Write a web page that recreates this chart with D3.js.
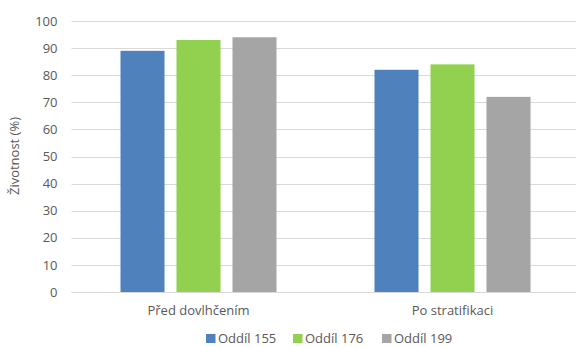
<!DOCTYPE html>
<html>
<head>
<meta charset="utf-8">
<script src="https://cdn.jsdelivr.net/npm/d3@7"></script>
<style>
  html, body { margin: 0; padding: 0; background: #fff; }
  svg { display: block; font-family: "Open Sans", sans-serif; }
</style>
</head>
<body>
<svg id="chart" width="576" height="347"></svg>
<script>
// Viability of seed lots before moistening and after stratification
const categories = ["Před dovlhčením", "Po stratifikaci"];
const seriesNames = ["Oddíl 155", "Oddíl 176", "Oddíl 199"];
const oddil155 = [89, 82];
const oddil176 = [93, 84];
const oddil199 = [94, 72];
const yTicks = [0, 10, 20, 30, 40, 50, 60, 70, 80, 90, 100];
const yTitle = "Životnost (%)";
const colors = ["#4F81BD", "#92D050", "#A5A5A5"];

const seriesValues = [oddil155, oddil176, oddil199];
const rows = categories.map((c, i) => ({
  category: c,
  values: seriesNames.map((s, j) => ({ series: s, value: seriesValues[j][i], idx: j }))
}));

const svg = d3.select("#chart");
const margin = { left: 71.5, right: -3.5, top: 21, bottom: 55 };
const W = 576, H = 347;

const x0 = d3.scaleBand().domain(categories)
  .range([margin.left, W - margin.right]).paddingInner(0).paddingOuter(0);
const x1 = d3.scaleBand().domain(seriesNames)
  .range([0, x0.bandwidth()]).paddingInner(0.214).paddingOuter(0.875);
const y = d3.scaleLinear().domain([0, 100]).range([H - margin.bottom, margin.top]);

// Gridlines
svg.append("g")
  .selectAll("line")
  .data(yTicks)
  .join("line")
  .attr("x1", margin.left)
  .attr("x2", W)
  .attr("y1", d => Math.round(y(d)) + 0.5)
  .attr("y2", d => Math.round(y(d)) + 0.5)
  .attr("stroke", "#D9D9D9")
  .attr("stroke-width", 1);

// Y axis labels
const yAxis = d3.axisLeft(y).tickValues(yTicks).tickSize(0).tickPadding(0);
const yg = svg.append("g").attr("transform", `translate(${margin.left - 14},0)`).call(yAxis);
yg.select(".domain").remove();
yg.selectAll("text")
  .attr("fill", "#595959")
  .attr("font-size", "13px")
  .attr("font-family", "Open Sans, sans-serif");

// Bars
const groups = svg.append("g")
  .selectAll("g")
  .data(rows)
  .join("g")
  .attr("transform", d => `translate(${x0(d.category)},0)`);

groups.selectAll("rect")
  .data(d => d.values)
  .join("rect")
  .attr("x", d => x1(d.series))
  .attr("width", x1.bandwidth())
  .attr("y", d => y(d.value))
  .attr("height", d => y(0) - y(d.value))
  .attr("fill", d => colors[d.idx]);

// Baseline
svg.append("line")
  .attr("x1", margin.left).attr("x2", W)
  .attr("y1", Math.round(y(0)) + 0.5).attr("y2", Math.round(y(0)) + 0.5)
  .attr("stroke", "#D9D9D9").attr("stroke-width", 1);

// Category labels
const xAxis = d3.axisBottom(x0).tickSize(0).tickPadding(0);
const xg = svg.append("g").attr("transform", `translate(0,${y(0) + 13.5})`).call(xAxis);
xg.select(".domain").remove();
xg.selectAll("text")
  .attr("fill", "#595959")
  .attr("font-size", "13px")
  .attr("font-family", "Open Sans, sans-serif");

// Y axis title
svg.append("text")
  .attr("transform", `translate(19,${156}) rotate(-90)`)
  .attr("text-anchor", "middle")
  .attr("fill", "#595959")
  .attr("font-size", "13px")
  .text(yTitle);

// Legend
const legendX = [206, 293, 382];
const legend = svg.append("g")
  .selectAll("g")
  .data(seriesNames)
  .join("g")
  .attr("transform", (d, i) => `translate(${legendX[i]},334)`);
legend.append("rect")
  .attr("width", 9.5).attr("height", 9)
  .attr("fill", (d, i) => colors[i]);
legend.append("text")
  .attr("x", 12).attr("y", 9)
  .attr("fill", "#595959")
  .attr("font-size", "13px")
  .text(d => d);
</script>
</body>
</html>
